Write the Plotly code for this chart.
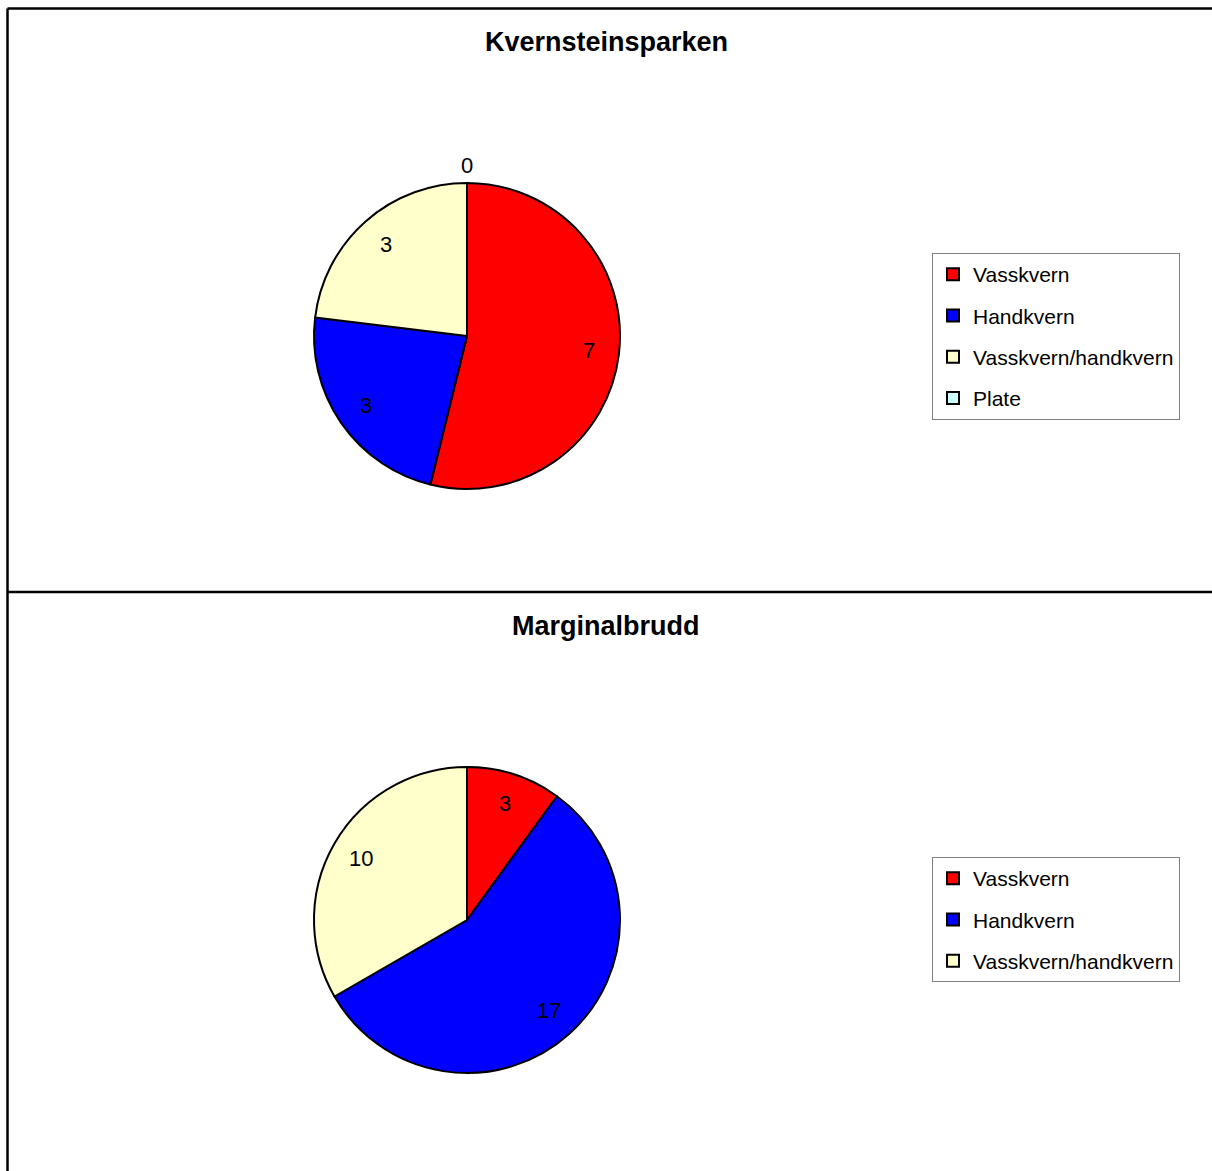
import plotly.graph_objects as go
import math

W, H = 1212, 1171

# ---- data ----
labels_top = ["Vasskvern", "Handkvern", "Vasskvern/handkvern", "Plate"]
values_top = [7, 3, 3, 0]
title_top = "Kvernsteinsparken"

labels_bot = ["Vasskvern", "Handkvern", "Vasskvern/handkvern"]
values_bot = [3, 17, 10]
title_bot = "Marginalbrudd"

colors = {"Vasskvern": "#FF0000", "Handkvern": "#0000FF",
          "Vasskvern/handkvern": "#FFFFCC", "Plate": "#CCFFFF"}

FONT = "Liberation Sans, Arial, sans-serif"

def px_x(v):
    return v / W

def px_y(v):
    return 1 - v / H

fig = go.Figure()

# pie geometry in pixels (centre x, centre y, radius)
geo_top = (467, 336, 153)
geo_bot = (467, 920, 153)

annotations = []

def add_pie(labels, values, geo, legend):
    cx, cy, r = geo
    dom = dict(x=[px_x(cx - r), px_x(cx + r)], y=[px_y(cy + r), px_y(cy - r)])
    fig.add_trace(go.Pie(
        labels=labels, values=values, domain=dom,
        sort=False, direction="clockwise", rotation=0,
        marker=dict(colors=[colors[l] for l in labels], line=dict(color="black", width=2)),
        textinfo="none",
        showlegend=False, hoverinfo="label+value",
    ))
    # data labels placed along each slice's mid-angle (Excel style)
    total = float(sum(values))
    cum = 0.0
    for l, v in zip(labels, values):
        mid = (cum + v / 2.0) / total * 2 * math.pi
        cum += v
        rr = 0.8 * r if v > 0 else r + 17
        x = cx + rr * math.sin(mid)
        y = cy - rr * math.cos(mid)
        annotations.append(dict(
            text=str(v), x=px_x(x), y=px_y(y), xref="paper", yref="paper",
            showarrow=False, xanchor="center", yanchor="middle",
            font=dict(family=FONT, size=22, color="black")))
    # legend entries (one group each so that the gap matches)
    for l in labels:
        fig.add_trace(go.Scatter(
            x=[None], y=[None], mode="markers", name=l,
            marker=dict(symbol="square", size=10, color=colors[l],
                        line=dict(color="black", width=1.5)),
            legend=legend, legendgroup=legend + l, showlegend=True,
            hoverinfo="skip",
        ))

add_pie(labels_top, values_top, geo_top, "legend")
add_pie(labels_bot, values_bot, geo_bot, "legend2")

legend_style = dict(
    bgcolor="white", bordercolor="#808080", borderwidth=1,
    font=dict(family=FONT, size=21, color="black"),
    xanchor="left", yanchor="top", tracegroupgap=11,
    traceorder="grouped", itemsizing="constant",
)

annotations += [
    dict(text="<b>%s</b>" % title_top, x=0.5, y=px_y(42), xref="paper", yref="paper",
         showarrow=False, font=dict(family=FONT, size=27, color="black"), yanchor="middle"),
    dict(text="<b>%s</b>" % title_bot, x=0.5, y=px_y(626), xref="paper", yref="paper",
         showarrow=False, font=dict(family=FONT, size=27, color="black"), yanchor="middle"),
]

shapes = [
    dict(type="line", xref="paper", yref="paper", x0=px_x(7.5), x1=1.01, y0=px_y(8.5), y1=px_y(8.5),
         line=dict(color="black", width=2.5)),
    dict(type="line", xref="paper", yref="paper", x0=px_x(7.5), x1=px_x(7.5), y0=px_y(8.5), y1=-0.01,
         line=dict(color="black", width=2.5)),
    dict(type="line", xref="paper", yref="paper", x0=px_x(7.5), x1=1.01, y0=px_y(592), y1=px_y(592),
         line=dict(color="black", width=2.5)),
]

fig.update_layout(
    width=W, height=H,
    margin=dict(l=0, r=0, t=0, b=0),
    paper_bgcolor="white", plot_bgcolor="white",
    font=dict(family=FONT, color="black"),
    xaxis=dict(visible=False), yaxis=dict(visible=False),
    legend=dict(x=px_x(932), y=px_y(253), **legend_style),
    legend2=dict(x=px_x(932), y=px_y(857), **legend_style),
    annotations=annotations, shapes=shapes,
)

fig.write_html("out.html")
